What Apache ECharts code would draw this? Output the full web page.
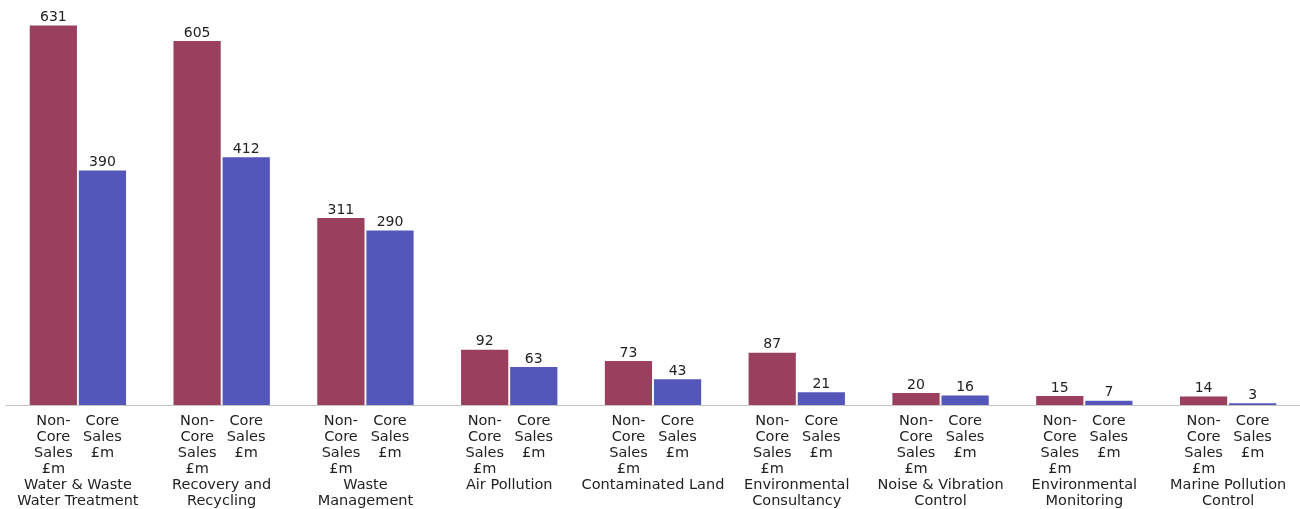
<!DOCTYPE html>
<html>
<head>
<meta charset="utf-8">
<script src="https://cdn.jsdelivr.net/npm/echarts@6/dist/echarts.min.js"></script>
<style>
  html, body { margin: 0; padding: 0; background: #ffffff; }
  #chart { width: 1300px; height: 509px; }
</style>
</head>
<body>
<div id="chart"></div>
<script>
// Environmental goods & services sub-sectors, sales in £m
const categories = [
  'Water & Waste\nWater Treatment',
  'Recovery and\nRecycling',
  'Waste\nManagement',
  'Air Pollution',
  'Contaminated Land',
  'Environmental\nConsultancy',
  'Noise & Vibration\nControl',
  'Environmental\nMonitoring',
  'Marine Pollution\nControl'
];
const nonCoreSales = [631, 605, 311, 92, 73, 87, 20, 15, 14];
const coreSales = [390, 412, 290, 63, 43, 21, 16, 7, 3];
const seriesNames = ['Non-Core Sales £m', 'Core Sales £m'];

const FONT = '"DejaVu Sans", Verdana, sans-serif';
const TEXT = '#222222';
const AXIS_FONT_SIZE = 14.5;

// Each category label: per-bar series captions side by side, then the category name
function categoryLabel(name) {
  const rows = [
    ['Non-', 'Core'],
    ['Core', 'Sales'],
    ['Sales', '£m'],
    ['£m', ' ']
  ];
  const head = rows.map(r => '{s|' + r[0] + '}{s|' + r[1] + '}').join('\n');
  const tail = name.split('\n').map(l => '{n|' + l + '}').join('\n');
  return head + '\n' + tail;
}

const chart = echarts.init(document.getElementById('chart'), null, { renderer: 'canvas' });
chart.setOption({
  animation: false,
  grid: { left: 6, right: -2, top: 20, bottom: 103, containLabel: false },
  xAxis: {
    type: 'category',
    data: categories,
    axisLine: { lineStyle: { color: '#c4c4c4', width: 1 } },
    axisTick: { show: false },
    axisLabel: {
      interval: 0,
      margin: 8,
      color: TEXT,
      fontFamily: FONT,
      fontSize: AXIS_FONT_SIZE,
      lineHeight: 16,
      formatter: v => categoryLabel(v),
      rich: {
        s: { width: 49, align: 'center', fontFamily: FONT, fontSize: AXIS_FONT_SIZE, lineHeight: 16, color: TEXT },
        n: { align: 'center', fontFamily: FONT, fontSize: AXIS_FONT_SIZE, lineHeight: 16, color: TEXT }
      }
    }
  },
  yAxis: {
    type: 'value',
    min: 0,
    max: 640,
    show: false,
    splitLine: { show: false }
  },
  series: [
    {
      name: seriesNames[0],
      type: 'bar',
      data: nonCoreSales,
      barCategoryGap: '33%',
      barGap: '4%',
      itemStyle: { color: '#9a3f5d' },
      label: {
        show: true, position: 'top', distance: 1,
        color: TEXT, fontFamily: FONT, fontSize: 14
      }
    },
    {
      name: seriesNames[1],
      type: 'bar',
      data: coreSales,
      barCategoryGap: '33%',
      barGap: '4%',
      itemStyle: { color: '#5556ba' },
      label: {
        show: true, position: 'top', distance: 1,
        color: TEXT, fontFamily: FONT, fontSize: 14
      }
    }
  ]
});
</script>
</body>
</html>
